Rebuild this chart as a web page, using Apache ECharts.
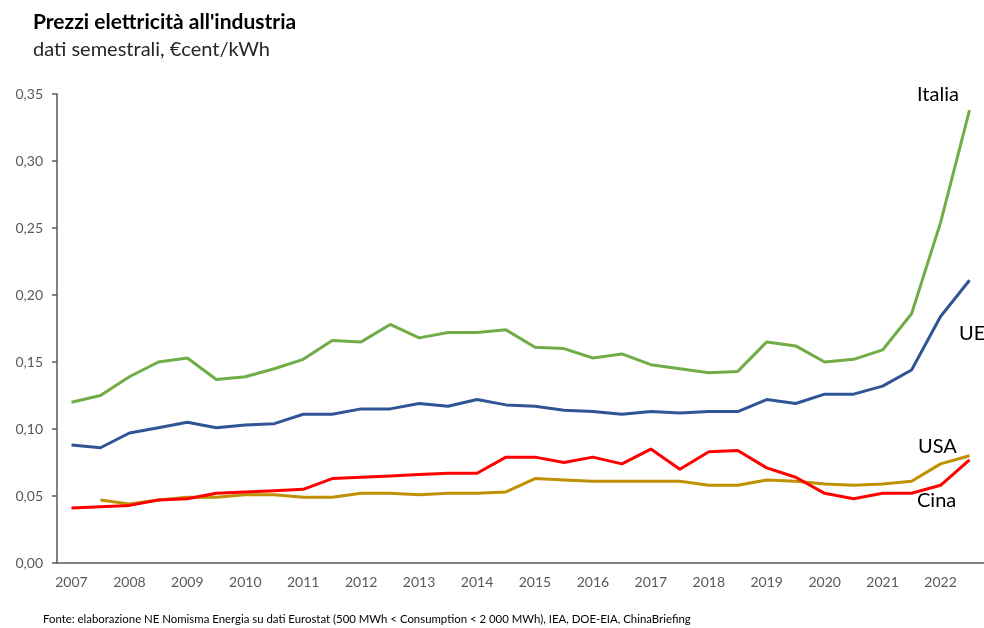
<!DOCTYPE html>
<html>
<head>
<meta charset="utf-8">
<script src="https://cdn.jsdelivr.net/npm/echarts@6/dist/echarts.min.js"></script>
<style>
  html, body { margin: 0; padding: 0; background: #fff; }
  #chart { width: 984px; height: 628px; }
</style>
</head>
<body>
<div id="chart"></div>
<script>
// semestri 2007 S1 ... 2022 S2
var years = [2007, 2008, 2009, 2010, 2011, 2012, 2013, 2014, 2015, 2016, 2017, 2018, 2019, 2020, 2021, 2022];
var semesters = [];
years.forEach(function (y) { semesters.push(y + '-S1'); semesters.push(y + '-S2'); });

var italia = [0.120, 0.125, 0.139, 0.150, 0.153, 0.137, 0.139, 0.145, 0.152, 0.166, 0.165, 0.178,
  0.168, 0.172, 0.172, 0.174, 0.161, 0.160, 0.153, 0.156, 0.148, 0.145, 0.142, 0.143,
  0.165, 0.162, 0.150, 0.152, 0.159, 0.186, 0.254, 0.338];
var ue = [0.088, 0.086, 0.097, 0.101, 0.105, 0.101, 0.103, 0.104, 0.111, 0.111, 0.115, 0.115,
  0.119, 0.117, 0.122, 0.118, 0.117, 0.114, 0.113, 0.111, 0.113, 0.112, 0.113, 0.113,
  0.122, 0.119, 0.126, 0.126, 0.132, 0.144, 0.184, 0.211];
var usa = [null, 0.047, 0.044, 0.047, 0.049, 0.049, 0.051, 0.051, 0.049, 0.049, 0.052, 0.052,
  0.051, 0.052, 0.052, 0.053, 0.063, 0.062, 0.061, 0.061, 0.061, 0.061, 0.058, 0.058,
  0.062, 0.061, 0.059, 0.058, 0.059, 0.061, 0.074, 0.080];
var cina = [0.041, 0.042, 0.043, 0.047, 0.048, 0.052, 0.053, 0.054, 0.055, 0.063, 0.064, 0.065,
  0.066, 0.067, 0.067, 0.079, 0.079, 0.075, 0.079, 0.074, 0.085, 0.070, 0.083, 0.084,
  0.071, 0.064, 0.052, 0.048, 0.052, 0.052, 0.058, 0.077];

var grey = '#595959';
var font = 'Lato, "Open Sans", sans-serif';

function line(name, data, color) {
  return {
    name: name,
    type: 'line',
    data: data,
    symbol: 'none',
    smooth: false,
    lineStyle: { color: color, width: 3 },
    itemStyle: { color: color }
  };
}

function label(text, x, y) {
  return {
    type: 'text',
    left: x,
    top: y,
    style: { text: text, font: '20px ' + font, fill: '#000' }
  };
}

var chart = echarts.init(document.getElementById('chart'));
chart.setOption({
  animation: false,
  backgroundColor: '#fff',
  grid: { left: 57, right: 0, top: 94, bottom: 65 },
  xAxis: {
    type: 'category',
    data: semesters,
    boundaryGap: true,
    axisLine: { lineStyle: { color: grey, width: 1.5 } },
    axisTick: { interval: 1, length: 5, lineStyle: { color: grey, width: 1.5 } },
    axisLabel: {
      interval: 1,
      margin: 12,
      color: grey,
      fontFamily: font,
      fontSize: 14,
      formatter: function (v) { return v.split('-')[0]; }
    }
  },
  yAxis: {
    type: 'value',
    min: 0,
    max: 0.35,
    interval: 0.05,
    splitLine: { show: false },
    axisLine: { show: true, lineStyle: { color: grey, width: 1.5 } },
    axisTick: { show: true, length: 5, lineStyle: { color: grey, width: 1.5 } },
    axisLabel: {
      margin: 14,
      color: grey,
      fontFamily: font,
      fontSize: 14,
      formatter: function (v) { return v.toFixed(2).replace('.', ','); }
    }
  },
  series: [
    line('Italia', italia, '#70AD47'),
    line('UE', ue, '#2F5597'),
    line('USA', usa, '#BF9000'),
    line('Cina', cina, '#FF0000')
  ],
  graphic: [
    {
      type: 'text', left: 33, top: 12,
      style: { text: "Prezzi elettricità all'industria", font: 'bold 21px ' + font, fill: '#000' }
    },
    {
      type: 'text', left: 33, top: 40,
      style: { text: 'dati semestrali, €cent/kWh', font: '20px ' + font, fill: '#262626' }
    },
    {
      type: 'text', left: 43, top: 614,
      style: {
        text: 'Fonte: elaborazione NE Nomisma Energia su dati Eurostat (500 MWh < Consumption < 2 000 MWh), IEA, DOE-EIA, ChinaBriefing',
        font: '11.4px ' + font, fill: '#000'
      }
    },
    label('Italia', 917, 85),
    label('UE', 959, 324),
    label('USA', 918, 437),
    label('Cina', 917, 491)
  ]
});
</script>
</body>
</html>
